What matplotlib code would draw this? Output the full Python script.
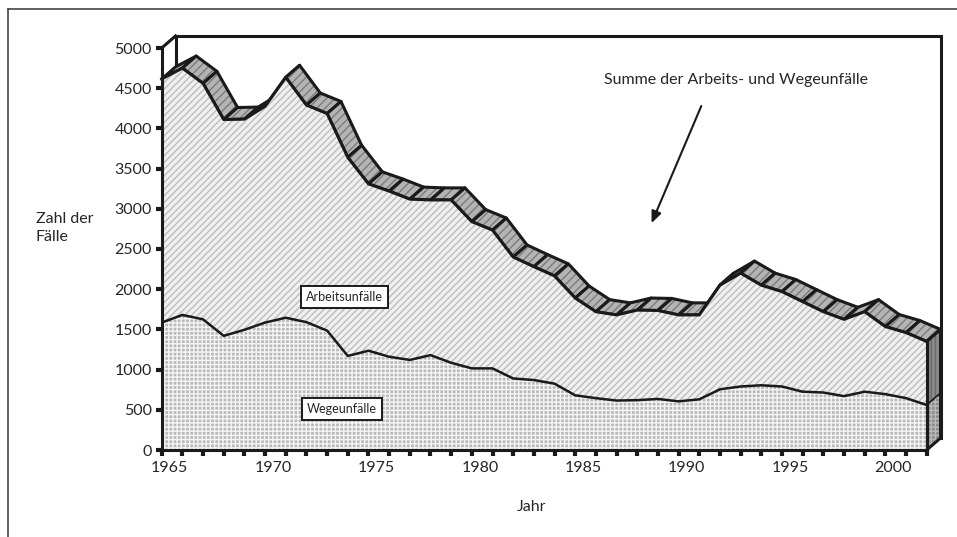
import numpy as np
import matplotlib
matplotlib.use("Agg")
from matplotlib import pyplot as plt
from matplotlib.lines import Line2D
from matplotlib.transforms import ScaledTranslation

plt.rcParams['font.family'] = ['Lato', 'DejaVu Sans']
plt.rcParams['hatch.linewidth'] = 1.0

# data
jahre = np.arange(1965, 2003)
wegeunfaelle = [1585, 1680, 1625, 1420, 1495, 1585, 1645, 1590, 1485, 1170,
                1235, 1160, 1120, 1180, 1085, 1015, 1015, 890, 870, 825,
                680, 645, 615, 620, 635, 605, 630, 755, 790, 805,
                790, 725, 715, 670, 725, 695, 645, 560]
arbeitsunfaelle = [3030, 3070, 2935, 2690, 2620, 2690, 2990, 2700, 2700, 2470,
                   2075, 2060, 2000, 1930, 2025, 1825, 1720, 1510, 1410, 1340,
                   1210, 1075, 1065, 1120, 1100, 1075, 1050, 1295, 1410, 1245,
                   1180, 1120, 1005, 955, 995, 840, 815, 790]
y_ticks = list(range(0, 5001, 500))
x_labels = [1965, 1970, 1975, 1980, 1985, 1990, 1995, 2000]

W = np.array(wegeunfaelle)
S = W + np.array(arbeitsunfaelle)
x = jahre.astype(float)

# depth of the 3d look (data units)
dx, dy = 0.67, 150
lw = 2.2
txt = '#262626'

fig = plt.figure(figsize=(9.57, 5.37), dpi=100)
ax = fig.add_axes([161.7 / 957, 87 / 537, 765 / 957, 402 / 537])
ax.set_xlim(1965, 2002)
ax.set_ylim(0, 5000)
ax.set_facecolor('none')

x0, x1 = x[0], x[-1]
# back wall
ax.fill([x0 + dx, x1 + dx, x1 + dx, x0 + dx], [dy, dy, 5000 + dy, 5000 + dy],
        facecolor='white', edgecolor='none', zorder=0, clip_on=False)
ax.plot([x0 + dx, x0 + dx, x1 + dx, x1 + dx], [dy, 5000 + dy, 5000 + dy, dy],
        color='#1a1a1a', lw=lw, zorder=1, clip_on=False, solid_joinstyle='miter')
ax.plot([x0, x0 + dx], [5000, 5000 + dy], color='#1a1a1a', lw=lw, zorder=1, clip_on=False)

# top ribbon of the summed area
for i in range(len(x) - 1):
    qx = [x[i], x[i + 1], x[i + 1] + dx, x[i] + dx]
    qy = [S[i], S[i + 1], S[i + 1] + dy, S[i] + dy]
    ax.fill(qx, qy, facecolor='#b4b4b4', edgecolor='#7c7c7c', hatch='////',
            lw=0, zorder=2, clip_on=False)
    ax.fill(qx, qy, facecolor='none', edgecolor='#1a1a1a', lw=lw,
            zorder=2, clip_on=False, joinstyle='round')

# right side face
ax.fill([x1, x1 + dx, x1 + dx, x1], [0, dy, W[-1] + dy, W[-1]],
        facecolor='#8c8c8c', edgecolor='#b8b8b8', hatch='++++', lw=0, zorder=3, clip_on=False)
ax.fill([x1, x1 + dx, x1 + dx, x1], [W[-1], W[-1] + dy, S[-1] + dy, S[-1]],
        facecolor='#8a8a8a', edgecolor='#6a6a6a', hatch='||||', lw=0, zorder=3, clip_on=False)
ax.plot([x1, x1 + dx], [W[-1], W[-1] + dy], color='#1a1a1a', lw=1.2, zorder=4, clip_on=False)
ax.plot([x1, x1 + dx, x1 + dx, x1], [0, dy, S[-1] + dy, S[-1]], color='#1a1a1a', lw=lw,
        zorder=4, clip_on=False)

# front faces
ax.fill_between(x, 0, W, facecolor='#bababa', edgecolor='#f4f4f4', hatch='++++',
                lw=0, zorder=3)
ax.fill_between(x, W, S, facecolor='#f0f0f0', edgecolor='#bdbdbd', hatch='/////',
                lw=0, zorder=3)
ax.plot(x, W, color='#1a1a1a', lw=1.8, zorder=4)
ax.plot(x, S, color='#1a1a1a', lw=lw, zorder=4, clip_on=False)
ax.plot([x1, x1], [0, S[-1]], color='#1a1a1a', lw=lw, zorder=4, clip_on=False)

# axes
for side in ['top', 'right']:
    ax.spines[side].set_visible(False)
for side in ['left', 'bottom']:
    ax.spines[side].set_linewidth(lw)
    ax.spines[side].set_color('#1a1a1a')
    ax.spines[side].set_zorder(5)
ax.set_yticks(y_ticks)
ax.set_yticklabels([str(v) for v in y_ticks])
ax.set_xticks(x_labels)
ax.set_xticklabels([str(v) for v in x_labels])
ax.set_xticks(jahre, minor=True)
ax.tick_params(axis='both', which='both', direction='out', length=4, width=3,
               color='#1a1a1a', labelsize=11.5, labelcolor=txt)
ax.tick_params(axis='y', pad=3)
ax.tick_params(axis='x', pad=4)
shift = ScaledTranslation(8 / 100, 0, fig.dpi_scale_trans)
for lab in ax.get_xticklabels():
    lab.set_transform(lab.get_transform() + shift)

ax.text(-126 / 765, 222 / 402, 'Zahl der\nFälle', transform=ax.transAxes,
        fontsize=11.5, color=txt, ha='left', va='center', linespacing=1.3)
ax.text(1982.9, -712, 'Jahr', fontsize=11.5, color=txt, ha='center', va='center',
        clip_on=False)

box = dict(boxstyle='square,pad=0.4', facecolor='white', edgecolor='#1a1a1a', lw=1.4)
ax.text(1973.85, 1906, 'Arbeitsunfälle', fontsize=9, color=txt, ha='center',
        va='center', bbox=box, zorder=6)
ax.text(1973.7, 512, 'Wegeunfälle', fontsize=9, color=txt, ha='center',
        va='center', bbox=box, zorder=6)

ax.text(1992.8, 4600, 'Summe der Arbeits- und Wegeunfälle', fontsize=11.5, color=txt,
        ha='center', va='center', zorder=6)
ax.annotate('', xy=(1988.64, 2790), xytext=(1991.15, 4310),
            arrowprops=dict(arrowstyle='-|>,head_length=0.7,head_width=0.3',
                            color='#1a1a1a', lw=1.5), zorder=6)

# outer frame (only top and left visible)
fig.add_artist(Line2D([8 / 957, 1], [1 - 9 / 537, 1 - 9 / 537], color='#444444', lw=1.2,
                      transform=fig.transFigure))
fig.add_artist(Line2D([8 / 957, 8 / 957], [0, 1 - 9 / 537], color='#444444', lw=1.2,
                      transform=fig.transFigure))

fig.savefig('out.png', dpi=100, facecolor='white')
